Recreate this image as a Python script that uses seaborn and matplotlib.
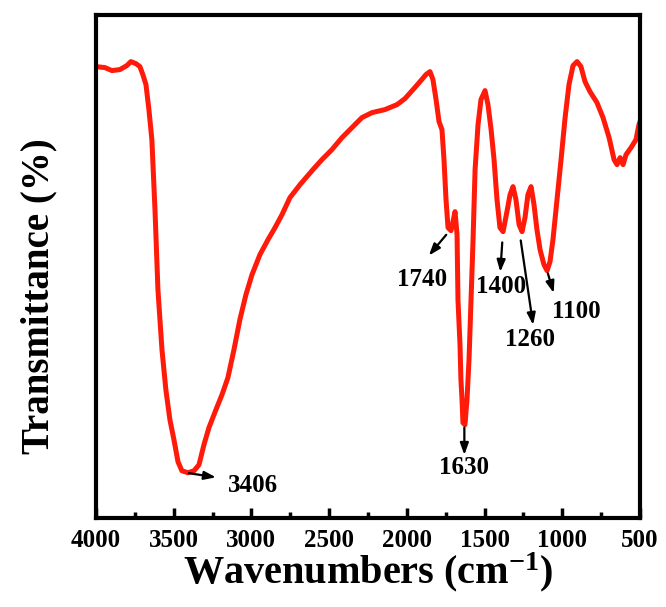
import numpy as np
import pandas as pd
import seaborn as sns
import matplotlib.pyplot as plt
from matplotlib.ticker import MultipleLocator

# FTIR spectrum (wavenumber in cm-1, transmittance in arbitrary units)
wavenumber = [4000, 3942, 3897, 3846, 3801, 3775, 3743, 3717, 3698, 3678,
              3659, 3640, 3620, 3601, 3575, 3550, 3524, 3498, 3472, 3447,
              3408, 3369, 3337, 3305, 3273, 3228, 3189, 3151, 3112, 3074,
              3035, 2996, 2945, 2893, 2848, 2803, 2752, 2687, 2604, 2546,
              2482, 2417, 2353, 2289, 2224, 2141, 2063, 2012, 1960, 1915,
              1877, 1851, 1832, 1812, 1793, 1774, 1761, 1748, 1735, 1716,
              1703, 1690, 1677, 1671, 1658, 1652, 1645, 1639, 1626, 1613,
              1600, 1587, 1574, 1561, 1542, 1523, 1497, 1478, 1458, 1439,
              1420, 1401, 1381, 1356, 1336, 1317, 1298, 1278, 1259, 1240,
              1221, 1201, 1182, 1163, 1143, 1118, 1098, 1079, 1060, 1034,
              1008, 982, 957, 931, 905, 880, 854, 822, 777, 738,
              699, 667, 648, 628, 609, 590, 558, 526, 507, 500]
pixel_y = [67, 68, 71, 70, 66, 62, 64, 67, 75, 85,
           110, 140, 210, 290, 350, 390, 420, 440, 462, 471,
           473, 471, 465, 445, 428, 410, 395, 378, 350, 320,
           295, 275, 255, 240, 228, 215, 198, 185, 170, 160,
           150, 138, 128, 118, 113, 110, 105, 99, 90, 82,
           75, 72, 80, 100, 122, 130, 160, 200, 228, 231,
           222, 212, 235, 300, 345, 380, 400, 423, 425, 400,
           360, 300, 240, 170, 125, 100, 91, 105, 130, 160,
           200, 228, 232, 212, 195, 187, 200, 225, 232, 218,
           195, 187, 205, 230, 250, 265, 271, 262, 240, 200,
           160, 118, 85, 66, 62, 67, 82, 92, 103, 118,
           138, 160, 165, 158, 165, 155, 148, 140, 125, 122]
transmittance = [518 - p for p in pixel_y]

# peak labels with arrow tail (on the curve), arrow head and text position
peak_labels = ["3406", "1740", "1400", "1260", "1100", "1630"]
peak_xy = [(3420, 45), (1735, 285), (1385, 278), (1270, 280), (1098, 247), (1630, 93)]
label_xy = [(3210, 40), (1870, 260), (1400, 243), (1185, 190), (1050, 222), (1630, 60)]
label_pos = [(3150, 32), (1900, 238), (1395, 231), (1205, 178), (910, 206), (1630, 50)]

df = pd.DataFrame({"Wavenumber": wavenumber, "Transmittance": transmittance})

sns.set_style("ticks")
plt.rcParams["font.family"] = ["Liberation Serif", "DejaVu Serif"]
plt.rcParams["font.weight"] = "bold"
plt.rcParams["mathtext.fontset"] = "custom"
plt.rcParams["mathtext.rm"] = "Liberation Serif:bold"
plt.rcParams["mathtext.default"] = "rm"
plt.rcParams["text.color"] = "black"
plt.rcParams["axes.labelcolor"] = "black"

fig, ax = plt.subplots(figsize=(6.66, 6.07), dpi=100)
fig.subplots_adjust(left=0.144, right=0.961, top=0.976, bottom=0.147)

sns.lineplot(data=df, x="Wavenumber", y="Transmittance", sort=False,
             color="#ff1a0a", linewidth=3.6, ax=ax)

ax.set_xlim(4000, 500)
ax.set_ylim(0, 503)
ax.xaxis.set_major_locator(MultipleLocator(500))
ax.xaxis.set_minor_locator(MultipleLocator(250))
ax.tick_params(axis="x", which="major", direction="in", length=7, width=2.5,
               labelsize=18, pad=8, top=False, color="black", labelcolor="black")
ax.tick_params(axis="x", which="minor", direction="in", length=4, width=2.5,
               top=False, color="black")
ax.set_yticks([])
for s in ax.spines.values():
    s.set_linewidth(3)
    s.set_color("black")
    s.set_visible(True)

ax.set_xlabel("Wavenumbers (cm$^{-1}$)", fontsize=29, fontweight="bold", labelpad=-1)
ax.set_ylabel("Transmittance (%)", fontsize=28, fontweight="bold")
ax.yaxis.set_label_coords(-0.07, 0.44)

for txt, (hx, hy), (tx, ty), (lx, ly) in zip(peak_labels, peak_xy, label_xy, label_pos):
    ax.annotate("", xy=(tx, ty), xytext=(hx, hy),
                arrowprops=dict(arrowstyle="-|>,head_length=0.7,head_width=0.25",
                                color="black", lw=1.6))
    ha = "left" if txt == "3406" else "center"
    ax.text(lx, ly, txt, fontsize=18, fontweight="bold", ha=ha, va="center")

plt.savefig("out.png", dpi=100)
